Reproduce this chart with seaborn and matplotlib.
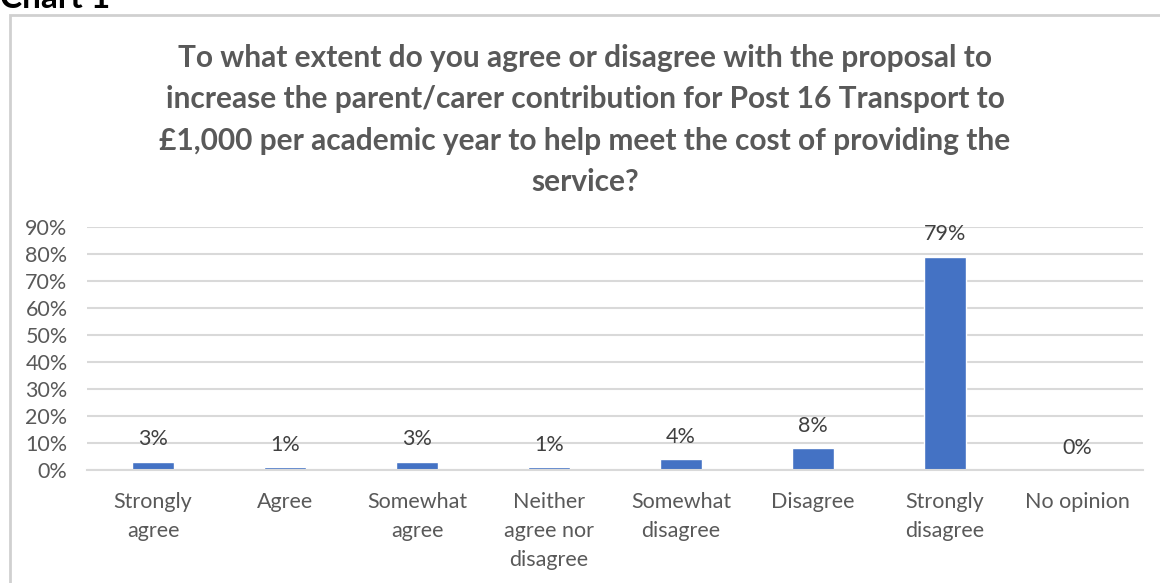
import matplotlib
matplotlib.use("Agg")
import matplotlib.pyplot as plt
import seaborn as sns
import pandas as pd
from matplotlib.patches import Rectangle

categories = ["Strongly\nagree", "Agree", "Somewhat\nagree", "Neither\nagree nor\ndisagree",
              "Somewhat\ndisagree", "Disagree", "Strongly\ndisagree", "No opinion"]
values = [3, 1, 3, 1, 4, 8, 79, 0]
labels = ["3%", "1%", "3%", "1%", "4%", "8%", "79%", "0%"]
yticks = [0, 10, 20, 30, 40, 50, 60, 70, 80, 90]
title = ("To what extent do you agree or disagree with the proposal to\n"
         "increase the parent/carer contribution for Post 16 Transport to\n"
         "£1,000 per academic year to help meet the cost of providing the\n"
         "service?")

sns.set_theme(style="white")
plt.rcParams['font.family'] = ['Lato', 'DejaVu Sans']

W, H = 1160, 583
fig = plt.figure(figsize=(W / 100, H / 100), dpi=100)

# outer chart border
fig.patches.append(Rectangle((10 / W, -0.05), 1.2, 1 - 15 / H + 0.05, transform=fig.transFigure,
                             fill=False, edgecolor="#d0d0d0", linewidth=2, zorder=0))
fig.text(0 / W, 1 - 8 / H, "Chart 1", fontsize=24, fontweight="bold", color="black",
         ha="left", va="baseline")

ax = fig.add_axes([87 / W, 1 - 470 / H, (1143 - 87) / W, (470 - 227) / H])
df = pd.DataFrame({"cat": categories, "val": values})
sns.barplot(data=df, x="cat", y="val", ax=ax, color="#4472C4", width=0.32, saturation=1)

ax.set_ylim(0, 90)
ax.set_yticks(yticks)
ax.set_yticklabels([f"{t}%" for t in yticks])
ax.yaxis.grid(True, color="#d9d9d9", linewidth=1.5)
ax.set_axisbelow(True)
for s in ["top", "right", "left"]:
    ax.spines[s].set_visible(False)
ax.spines["bottom"].set_color("#d9d9d9")
ax.spines["bottom"].set_linewidth(1.5)
ax.set_xlabel("")
ax.set_ylabel("")
ax.tick_params(axis="both", length=0, labelsize=15.5, colors="#595959")
ax.tick_params(axis="x", pad=16)
ax.tick_params(axis="y", pad=14)
for lab in ax.get_xticklabels():
    lab.set_linespacing(1.55)

for i, (v, l) in enumerate(zip(values, labels)):
    ax.annotate(l, (i, v), xytext=(0, 9), textcoords="offset points", ha="center", va="bottom",
                fontsize=15.5, color="#404040")

fig.text(0.5 + 5 / W, 1 - 44 / H, title, ha="center", va="top", fontsize=21.5, fontweight="bold",
         color="#595959", linespacing=1.58)

fig.savefig("out.png", dpi=100)
